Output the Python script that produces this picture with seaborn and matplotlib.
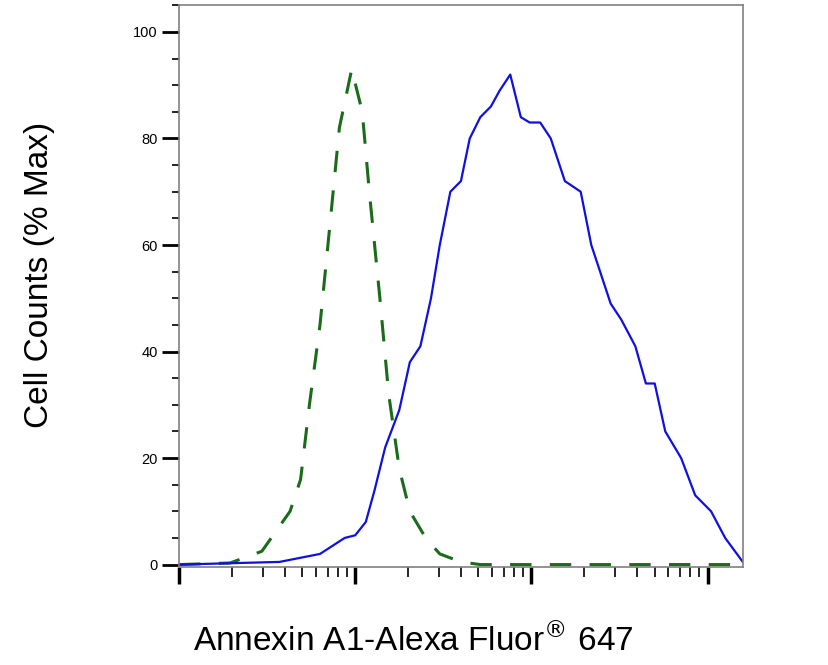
import numpy as np
import pandas as pd
import matplotlib
matplotlib.use("Agg")
from matplotlib import pyplot as plt
from matplotlib.ticker import LogLocator, MultipleLocator, NullFormatter
import seaborn as sns

# donnees (log10 intensite, % max)
blue_log = [1.0, 1.57, 1.80, 1.94, 2.0, 2.06, 2.11, 2.17, 2.25, 2.31, 2.37, 2.43, 2.48, 2.54,
            2.60, 2.65, 2.71, 2.77, 2.82, 2.88, 2.94, 2.99, 3.05, 3.11, 3.19, 3.28, 3.34, 3.39,
            3.45, 3.51, 3.59, 3.65, 3.70, 3.76, 3.85, 3.93, 4.02, 4.10, 4.20]
blue_val = [0, 0.5, 2, 5, 5.5, 8, 14, 22, 29, 38, 41, 50, 60, 70, 72, 80, 84, 86, 89, 92, 84,
            83, 83, 80, 72, 70, 60, 55, 49, 46, 41, 34, 34, 25, 20, 13, 10, 5, 0.5]
green_log = [1.0, 1.29, 1.47, 1.63, 1.69, 1.74, 1.80, 1.86, 1.91, 1.98, 2.04, 2.08, 2.14, 2.19,
             2.25, 2.31, 2.40, 2.48, 2.60, 2.71, 4.20]
green_val = [0, 0.3, 2.5, 10, 16, 30, 45, 65, 82, 93, 85, 70, 50, 32, 18, 10, 5, 2, 0.5, 0, 0]

blue = pd.DataFrame({"x": 10 ** np.array(blue_log), "y": blue_val})
green = pd.DataFrame({"x": 10 ** np.array(green_log), "y": green_val})

sns.set_style("white")
plt.rcParams['font.family'] = ['Liberation Sans', 'DejaVu Sans']

fig = plt.figure(figsize=(8.29, 6.65), dpi=100)
ax = fig.add_axes([0.216, 0.147, 0.68, 0.845])
sns.lineplot(data=green, x="x", y="y", ax=ax, color="#1a6b1a", lw=2.2)
ax.lines[-1].set_dashes([7, 6])
sns.lineplot(data=blue, x="x", y="y", ax=ax, color="#1010e0", lw=1.6)

ax.set_xscale("log")
ax.set_xlim(10, 10 ** 4.2)
ax.set_ylim(-0.5, 105)
ax.xaxis.set_major_locator(LogLocator(base=10, numticks=10))
ax.xaxis.set_minor_locator(LogLocator(base=10, subs=np.arange(2, 10), numticks=10))
ax.xaxis.set_major_formatter(NullFormatter())
ax.xaxis.set_minor_formatter(NullFormatter())
ax.yaxis.set_major_locator(MultipleLocator(20))
ax.yaxis.set_minor_locator(MultipleLocator(5))
ax.tick_params(axis="x", which="major", direction="out", length=12, width=2.5, color="black", bottom=True)
ax.tick_params(axis="x", which="minor", direction="out", length=7, width=1.2, color="black", bottom=True)
ax.tick_params(axis="y", which="major", direction="out", length=12, width=2, color="black", left=True,
               labelsize=10.5, labelcolor="black")
ax.tick_params(axis="y", which="minor", direction="out", length=5, width=1.2, color="black", left=True)
for s in ax.spines.values():
    s.set_color("#808080")
    s.set_linewidth(1.2)

ax.set_xlabel("Annexin A1-Alexa Fluor$^{®}$ 647", fontsize=24, color="black")
ax.set_ylabel("Cell Counts (% Max)", fontsize=24, color="black")
ax.xaxis.set_label_coords(0.415, -0.1)
ax.yaxis.set_label_coords(-0.22, 0.52)
fig.savefig("out.png", dpi=100)
